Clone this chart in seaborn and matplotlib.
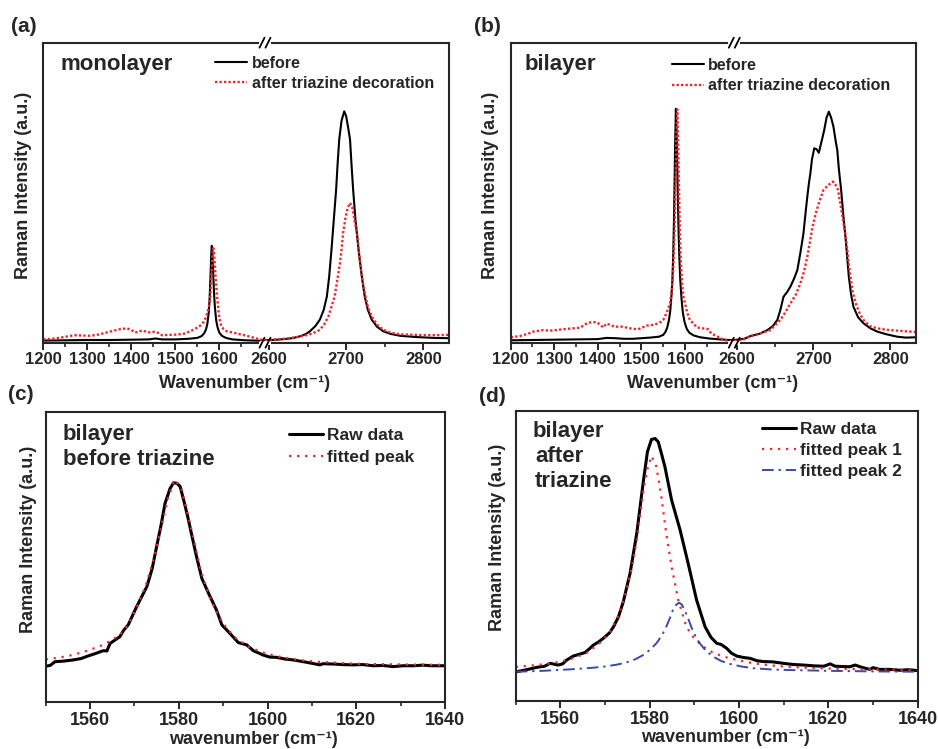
import matplotlib
matplotlib.use("Agg")
import matplotlib.pyplot as plt
from matplotlib.lines import Line2D
from matplotlib.ticker import MultipleLocator, FixedLocator
import seaborn as sns

# intensities are in % of the axis height (arbitrary units)

# ---- (a) monolayer ----
a_lo_before_x = [1200, 1250, 1300, 1350, 1400, 1440, 1455, 1470, 1500, 1530, 1550, 1560, 1566, 1570, 1573, 1576,
                 1578, 1580, 1582, 1583, 1584, 1586, 1588, 1590, 1593, 1596, 1600, 1606, 1615, 1630, 1660, 1704]
a_lo_before_y = [0.7, 0.8, 0.9, 0.9, 1.0, 1.1, 1.4, 1.1, 1.1, 1.3, 1.6, 2.2, 3.2, 4.5, 6.3, 10,
                 14.5, 22, 30, 32.3, 31, 24, 17, 12, 7.5, 5.2, 3.4, 2.3, 1.6, 1.1, 0.8, 0.6]
a_lo_after_x = [1200, 1220, 1240, 1255, 1270, 1290, 1306, 1325, 1344, 1360, 1370, 1390, 1400, 1408, 1417, 1424,
                1435, 1443, 1454, 1462, 1470, 1485, 1503, 1520, 1534, 1545, 1556, 1565, 1570, 1574, 1577, 1579,
                1581, 1583, 1585, 1586.5, 1588, 1590, 1592, 1594, 1596, 1599, 1602, 1605, 1610, 1617, 1630, 1645,
                1660, 1675, 1690, 1704]
a_lo_after_y = [1.1, 1.3, 1.7, 2.1, 2.5, 2.4, 2.3, 2.7, 3.4, 4.0, 4.4, 4.8, 4.3, 3.4, 3.6, 4.1,
                3.6, 3.4, 3.7, 3.2, 2.5, 2.6, 2.7, 3.0, 3.8, 4.6, 5.6, 7.0, 8.5, 10.5, 12.5, 14.3,
                19, 25, 30, 31.5, 30, 26, 21, 17, 14, 9.5, 7.0, 5.4, 4.5, 3.8, 3.4, 2.9,
                2.4, 1.8, 1.2, 0.8]
a_hi_before_x = [2595, 2610, 2620, 2630, 2640, 2648, 2653, 2660, 2666, 2671, 2675, 2678, 2681, 2684, 2687, 2689,
                 2691, 2694, 2697.5, 2700, 2703, 2705, 2707, 2709, 2712, 2716, 2720, 2724, 2728, 2733, 2740, 2748,
                 2758, 2770, 2790, 2813, 2833]
a_hi_before_y = [0.8, 1.0, 1.2, 1.5, 2.1, 2.9, 3.8, 5.5, 7.7, 11, 15.4, 22, 31, 41, 51, 60,
                 67.7, 74, 77.1, 75.5, 71, 67.7, 59, 51, 41, 31, 22.5, 15.4, 11, 7.7, 5.3, 3.8,
                 2.9, 2.3, 1.9, 1.6, 1.5]
a_hi_after_x = [2595, 2605, 2620, 2635, 2645, 2653, 2660, 2666, 2672, 2677, 2681, 2685, 2688, 2692, 2694, 2696,
                2699, 2702, 2705, 2708, 2711, 2714, 2718, 2721, 2724, 2728, 2733, 2740, 2748, 2758, 2770, 2790,
                2813, 2833]
a_hi_after_y = [0.5, 1.0, 1.3, 1.8, 2.3, 2.8, 3.5, 4.3, 6.3, 8.8, 12, 15.4, 20, 26.6, 31, 36.6,
                41.5, 45, 46.6, 45, 40.5, 36.6, 26.6, 21, 16.6, 12, 8.8, 6.0, 4.3, 3.3, 2.8, 2.6,
                2.5, 2.6]

# ---- (b) bilayer ----
b_lo_before_x = [1200, 1250, 1300, 1350, 1400, 1420, 1440, 1460, 1480, 1500, 1520, 1540, 1550, 1555, 1559, 1563,
                 1566, 1569, 1571, 1573, 1575, 1577, 1579, 1581, 1583, 1585, 1587, 1589, 1592, 1595, 1599, 1604,
                 1610, 1620, 1635, 1655, 1680, 1712]
b_lo_before_y = [0.8, 0.9, 1.0, 1.1, 1.2, 1.6, 1.5, 1.3, 1.3, 1.5, 1.7, 2.0, 2.6, 3.6, 5.0, 7.5,
                 10.5, 16, 21, 30, 44, 64, 78, 68, 52, 38, 28, 21, 14.5, 10, 6.8, 4.6,
                 3.3, 2.4, 1.8, 1.4, 1.1, 0.8]
b_lo_after_x = [1200, 1221, 1240, 1252, 1275, 1290, 1310, 1328, 1345, 1359, 1370, 1378, 1397, 1405, 1412, 1420,
                1430, 1439, 1450, 1458, 1470, 1481, 1490, 1497, 1512, 1525, 1540, 1550, 1558, 1565.5, 1570, 1573,
                1576, 1578, 1580, 1582, 1584, 1586, 1588, 1590, 1593, 1596, 1600, 1605, 1611, 1620, 1627, 1640,
                1653, 1660, 1675, 1690, 1712]
b_lo_after_y = [1.8, 2.2, 3.0, 3.7, 4.2, 4.0, 4.3, 4.6, 4.8, 5.0, 6.0, 6.7, 6.9, 6.0, 5.1, 6.4,
                5.8, 5.3, 5.4, 5.3, 4.9, 4.6, 4.5, 4.7, 5.7, 5.9, 6.5, 7.6, 10, 13.1, 18, 25,
                38, 52, 68, 77.8, 68, 52, 38, 28, 20, 15.5, 13.1, 10, 7.6, 6.3, 5.1, 4.8,
                4.5, 3.1, 2.0, 0.9, 0.4]
b_hi_before_x = [2597, 2610, 2618, 2630, 2640, 2647, 2653, 2657, 2661, 2666, 2670, 2675, 2679, 2683, 2687, 2690,
                 2692, 2694, 2696, 2698, 2701, 2704, 2707, 2709, 2711, 2714, 2717, 2720, 2723, 2726, 2729, 2731,
                 2733, 2736, 2739, 2742, 2746, 2749, 2752, 2758, 2765, 2774, 2783, 2795, 2809, 2820, 2833]
b_hi_before_y = [0.9, 1.3, 2.2, 3.0, 4.2, 5.5, 7.6, 11, 15.3, 17, 18.7, 21.5, 24.2, 30, 36.5, 44,
                 48.7, 53, 56.5, 61, 64.8, 64.5, 63.3, 65.5, 67.6, 70.9, 75, 77, 75, 72, 67, 64.2,
                 58, 50.9, 42, 34.2, 22, 16, 12, 8.5, 6.5, 4.8, 3.7, 2.8, 2.0, 1.7, 1.8]
b_hi_after_x = [2597, 2610, 2618, 2630, 2644, 2650, 2657, 2663, 2670, 2677, 2683, 2688, 2692, 2695, 2698, 2703,
                2707, 2713, 2719, 2725.5, 2729, 2732, 2737, 2742, 2745, 2748, 2751, 2755, 2760, 2765, 2773, 2783,
                2795, 2809, 2820, 2833]
b_hi_after_y = [0.6, 1.2, 2.2, 3.0, 4.2, 5.8, 7.6, 10, 13.1, 16, 19.8, 24, 28.7, 33, 37.6, 43.1,
                46.5, 50.9, 52.5, 53.7, 52.5, 50.9, 43.1, 35.3, 28.5, 22, 17, 13.1, 9.8, 7.6, 5.6, 4.8,
                4.3, 4.0, 3.8, 3.6]

# ---- (c) bilayer before triazine, G band fit ----
c_raw_x = [1550.2, 1551, 1552.1, 1554, 1556.2, 1558, 1559.6, 1561, 1563, 1563.8, 1564.5, 1566.7, 1567.6, 1568.6,
           1570.5, 1572.8, 1574, 1575, 1576, 1576.9, 1578, 1578.8, 1579.6, 1580.3, 1581.2, 1582.1, 1583, 1584,
           1585.2, 1586.7, 1588.5, 1589.7, 1591.5, 1593.4, 1595.3, 1596.8, 1599, 1600.5, 1602, 1604, 1605.8,
           1608.8, 1611.8, 1612.5, 1614.8, 1617, 1619.3, 1621.5, 1623.8, 1626, 1628.3, 1630.5, 1632.8, 1635,
           1637, 1639.8]
c_raw_y = [12.4, 12.6, 13.9, 14.1, 14.5, 15.0, 15.9, 16.6, 17.7, 17.6, 20.2, 22.5, 24.8, 26.6,
           32.9, 39.8, 46, 53.6, 61, 68.5, 73.5, 75.6, 75.4, 74.3, 69, 63.3, 57, 50.1,
           42.6, 37.5, 31.7, 26.6, 23.7, 20.5, 19.7, 17.7, 16.2, 15.5, 15.4, 14.8, 14.5,
           13.7, 12.8, 13.2, 13.1, 12.9, 12.8, 12.9, 12.5, 12.6, 12.2, 12.5, 12.5, 12.7,
           12.5, 12.5]
c_fit_x = [1550, 1553, 1556, 1559, 1562, 1564.5, 1566.7, 1568.6, 1570.5, 1572.5, 1574.5, 1576, 1577.5, 1579,
           1580.5, 1582, 1583.5, 1585, 1587, 1589, 1591, 1593, 1596, 1599.5, 1603, 1607, 1611, 1614.8, 1618,
           1622.3, 1627, 1632, 1636, 1640]
c_fit_y = [14.7, 15.3, 16.2, 17.5, 19.1, 21, 23.1, 26.6, 32.5, 40, 50, 60, 70, 76.6,
           74, 65, 55, 45, 36, 29.5, 25, 21.8, 18.8, 16.8, 15.5, 14.5, 13.9, 13.6, 13.3,
           13.1, 13.0, 12.9, 12.85, 12.8]

# ---- (d) bilayer after triazine, two-peak fit ----
d_raw_x = [1550.2, 1552.5, 1554.7, 1556.5, 1557.7, 1559.5, 1560.5, 1561.4, 1562.9, 1564, 1565.5, 1566.5, 1567.4,
           1568.5, 1569.6, 1571, 1571.9, 1573, 1574.1, 1575.6, 1577.1, 1578.6, 1579.5, 1580.4, 1581.2, 1581.9,
           1582.6, 1583.4, 1584.9, 1586.8, 1588.6, 1590.5, 1592.4, 1593.7, 1595, 1596, 1597.2, 1598.3, 1599.5,
           1601, 1602.5, 1604, 1605.4, 1607.5, 1609.9, 1612, 1614.4, 1617, 1619, 1620.4, 1621.5, 1623, 1624.8,
           1626, 1627.5, 1629.3, 1630, 1631.5, 1633.8, 1636, 1638, 1639.8]
d_raw_y = [10.1, 10.8, 11.6, 12.0, 13.0, 12.4, 12.8, 14.1, 15.5, 16.0, 16.7, 18.0, 19.3,
           20.3, 21.6, 23.5, 25.6, 29, 34.3, 44.0, 57.8, 76, 86, 90.2, 90.5, 89.4,
           85.5, 80.8, 69.3, 59.0, 47.5, 34.8, 25.6, 22, 19.9, 19.5, 18.2, 16.5, 15.5,
           15.0, 14.7, 13.9, 13.6, 13.5, 13.0, 12.6, 12.4, 12.1, 12.0, 12.8, 12.0, 11.9, 11.8,
           12.4, 11.6, 10.9, 11.5, 10.9, 10.9, 10.6, 10.8, 10.5]
d_fit1_x = [1550, 1554, 1558.2, 1562, 1565.7, 1568.5, 1570.9, 1573, 1574.6, 1576, 1577.1, 1578.6, 1579.5, 1580.4,
            1581.5, 1582.6, 1583.7, 1584.9, 1586.4, 1588.2, 1590, 1592, 1594, 1596.5, 1600, 1603.2, 1607, 1610.7,
            1616, 1621.9, 1630, 1639.8]
d_fit1_y = [11.8, 12.3, 13.0, 14.3, 16.4, 19.5, 23.3, 29.5, 37.1, 46, 55.5, 72.8, 80, 84.5,
            80.8, 70.5, 57.8, 46.3, 34.8, 25.6, 21.5, 18.7, 16.8, 15.3, 14.0, 13.0, 12.3, 11.8,
            11.4, 11.1, 10.9, 10.7]
d_fit2_x = [1550, 1556, 1562, 1566, 1569.6, 1572.5, 1574.6, 1576.8, 1578.6, 1580, 1581.5, 1582.7, 1583.7, 1584.5,
            1585.2, 1586.0, 1586.6, 1587.2, 1587.8, 1588.6, 1589.3, 1590.2, 1591.2, 1592.6, 1594.2, 1596, 1597.9,
            1600.5, 1603.2, 1607, 1610.7, 1620, 1630, 1639.8]
d_fit2_y = [10.1, 10.4, 10.9, 11.3, 11.8, 12.5, 13.2, 14.4, 15.9, 17.6, 19.9, 22.5, 25.6, 28.5,
            31.4, 33.3, 33.9, 33.2, 31.4, 28.5, 25.6, 22.5, 19.9, 17.3, 15.3, 13.8, 12.8,
            11.9, 11.3, 10.9, 10.7, 10.4, 10.2, 10.1]

# tick positions of the broken axes
lo_major = [1200, 1300, 1400, 1500, 1600]
lo_minor = [1250, 1350, 1450, 1550, 1650]
hi_major = [2600, 2700, 2800]
hi_minor = [2650, 2750]

W, H = 938, 749
RED = "#f2262b"
BLUE = "#3c4aa6"
DENSE_DOT = (0, (1, 0.9))
LOOSE_DOT = (0, (1, 2.6))


def fx(px):
    return px / W


def fy(py):
    return 1 - py / H


def rect(x0, y0, x1, y1):
    return [x0 / W, 1 - y1 / H, (x1 - x0) / W, (y1 - y0) / H]


def style_axis(ax, major, minor, size=12):
    ax.set_ylim(0, 100)
    ax.set_yticks([])
    ax.set_xlabel("")
    ax.set_ylabel("")
    ax.xaxis.set_major_locator(FixedLocator(major) if isinstance(major, list) else MultipleLocator(major))
    ax.xaxis.set_minor_locator(FixedLocator(minor) if isinstance(minor, list) else MultipleLocator(minor))
    ax.tick_params(axis="x", which="major", length=5, width=1.4, direction="out", labelsize=size, pad=2)
    ax.tick_params(axis="x", which="minor", length=3, width=1.2, direction="out")
    for s in ax.spines.values():
        s.set_linewidth(1.5)


def break_marks(fig, xpx, ytop, ybot):
    for y in (ytop, ybot):
        fig.add_artist(Line2D([fx(xpx - 4), fx(xpx + 4)], [fy(y), fy(y)], color="white", lw=3))
        for dx in (-3, 3):
            fig.add_artist(Line2D([fx(xpx + dx - 2.5), fx(xpx + dx + 2.5)], [fy(y + 5), fy(y - 5)],
                                  color="black", lw=1.3))


def broken_panel(fig, x0, xb, x1, lo, hi, lo_before, lo_after, hi_before, hi_after):
    axl = fig.add_axes(rect(x0, 42.7, xb, 342.7))
    axr = fig.add_axes(rect(xb, 42.7, x1, 342.7))
    axr.patch.set_alpha(0)
    sns.lineplot(x=lo_before[0], y=lo_before[1], ax=axl, color="black", lw=1.5, errorbar=None, label="before")
    sns.lineplot(x=lo_after[0], y=lo_after[1], ax=axl, color=RED, lw=1.7, linestyle=DENSE_DOT,
                 errorbar=None, label="after triazine decoration")
    sns.lineplot(x=hi_before[0], y=hi_before[1], ax=axr, color="black", lw=1.5, errorbar=None, legend=False)
    sns.lineplot(x=hi_after[0], y=hi_after[1], ax=axr, color=RED, lw=1.7, linestyle=DENSE_DOT,
                 errorbar=None, legend=False)
    axl.set_xlim(*lo)
    axr.set_xlim(*hi)
    style_axis(axl, lo_major, lo_minor)
    style_axis(axr, hi_major, hi_minor)
    axl.spines["right"].set_visible(False)
    axr.spines["left"].set_visible(False)
    axr.tick_params(axis="y", left=False)
    break_marks(fig, xb, 42.7, 342.7)
    return axl, axr


def main():
    sns.set_style("ticks")
    plt.rcParams["font.family"] = ["Liberation Sans", "DejaVu Sans"]
    plt.rcParams["font.weight"] = "bold"
    plt.rcParams["axes.labelweight"] = "bold"

    fig = plt.figure(figsize=(9.38, 7.49), dpi=100)

    # (a)
    axl, axr = broken_panel(fig, 43.3, 265, 449, (1200, 1704), (2595, 2833),
                            (a_lo_before_x, a_lo_before_y), (a_lo_after_x, a_lo_after_y),
                            (a_hi_before_x, a_hi_before_y), (a_hi_after_x, a_hi_after_y))
    h, l = axl.get_legend_handles_labels()
    axl.get_legend().remove()
    axr.legend(h, l, loc="upper left", bbox_to_anchor=(fx(215), fy(56)), bbox_transform=fig.transFigure,
               frameon=False, fontsize=11.5, handlelength=2.0, handletextpad=0.3, labelspacing=0.3,
               borderpad=0, borderaxespad=0)
    fig.text(fx(60), fy(70), "monolayer", fontsize=16, weight="bold", va="baseline")

    # (b)
    axl, axr = broken_panel(fig, 510.7, 734.3, 915.7, (1200, 1713), (2597, 2833),
                            (b_lo_before_x, b_lo_before_y), (b_lo_after_x, b_lo_after_y),
                            (b_hi_before_x, b_hi_before_y), (b_hi_after_x, b_hi_after_y))
    h, l = axl.get_legend_handles_labels()
    axl.get_legend().remove()
    axr.legend(h, l, loc="upper left", bbox_to_anchor=(fx(671.7), fy(57.5)), bbox_transform=fig.transFigure,
               frameon=False, fontsize=11.5, handlelength=2.0, handletextpad=0.3, labelspacing=0.35,
               borderpad=0, borderaxespad=0)
    fig.text(fx(525), fy(70), "bilayer", fontsize=16, weight="bold", va="baseline")

    # (c)
    axc = fig.add_axes(rect(45.7, 412, 445, 702))
    sns.lineplot(x=c_raw_x, y=c_raw_y, ax=axc, color="black", lw=2.2, errorbar=None, label="Raw data")
    sns.lineplot(x=c_fit_x, y=c_fit_y, ax=axc, color=RED, lw=1.6, linestyle=LOOSE_DOT, errorbar=None,
                 label="fitted peak")
    axc.set_xlim(1550, 1640)
    style_axis(axc, 20, 10, size=13)
    h, l = axc.get_legend_handles_labels()
    axc.legend(h, l, loc="upper left", bbox_to_anchor=(fx(289), fy(428)), bbox_transform=fig.transFigure,
               frameon=False, fontsize=12.5, handlelength=1.95, handletextpad=0.25, labelspacing=0.4,
               borderpad=0, borderaxespad=0)
    fig.text(fx(63), fy(440), "bilayer", fontsize=16, weight="bold", va="baseline")
    fig.text(fx(63), fy(465), "before triazine", fontsize=16, weight="bold", va="baseline")

    # (d)
    axd = fig.add_axes(rect(515.7, 411, 917.7, 701))
    sns.lineplot(x=d_raw_x, y=d_raw_y, ax=axd, color="black", lw=2.2, errorbar=None, label="Raw data")
    sns.lineplot(x=d_fit1_x, y=d_fit1_y, ax=axd, color=RED, lw=1.6, linestyle=LOOSE_DOT, errorbar=None,
                 label="fitted peak 1")
    sns.lineplot(x=d_fit2_x, y=d_fit2_y, ax=axd, color=BLUE, lw=1.4, linestyle=(0, (6, 2.5, 1.2, 2.5)),
                 errorbar=None, label="fitted peak 2")
    axd.set_xlim(1550, 1640)
    style_axis(axd, 20, 10, size=13)
    h, l = axd.get_legend_handles_labels()
    axd.legend(h, l, loc="upper left", bbox_to_anchor=(fx(762), fy(422)), bbox_transform=fig.transFigure,
               frameon=False, fontsize=12.5, handlelength=1.95, handletextpad=0.25, labelspacing=0.33,
               borderpad=0, borderaxespad=0)
    fig.text(fx(533), fy(436.7), "bilayer", fontsize=16, weight="bold", va="baseline")
    fig.text(fx(535), fy(461.7), "after", fontsize=16, weight="bold", va="baseline")
    fig.text(fx(535), fy(486.7), "triazine", fontsize=16, weight="bold", va="baseline")

    # axis titles
    for x, y in [(23.5, 185), (490.5, 185), (28.5, 539), (497.5, 537)]:
        fig.text(fx(x), fy(y), "Raman Intensity (a.u.)", rotation=90, ha="center", va="center",
                 fontsize=13, weight="bold")
    fig.text(fx(245), fy(383), "Wavenumber (cm⁻¹)", ha="center", va="center", fontsize=13, weight="bold")
    fig.text(fx(712.5), fy(383), "Wavenumber (cm⁻¹)", ha="center", va="center", fontsize=13, weight="bold")
    fig.text(fx(253), fy(739), "wavenumber (cm⁻¹)", ha="center", va="center", fontsize=13, weight="bold")
    fig.text(fx(725), fy(738), "wavenumber (cm⁻¹)", ha="center", va="center", fontsize=13, weight="bold")

    # panel letters
    for x, y, t in [(11, 27, "(a)"), (474, 27, "(b)"), (8, 395, "(c)"), (479, 397, "(d)")]:
        fig.text(fx(x), fy(y), t, fontsize=15, weight="bold", va="center")

    fig.savefig("out.png", dpi=100)


if __name__ == "__main__":
    main()
